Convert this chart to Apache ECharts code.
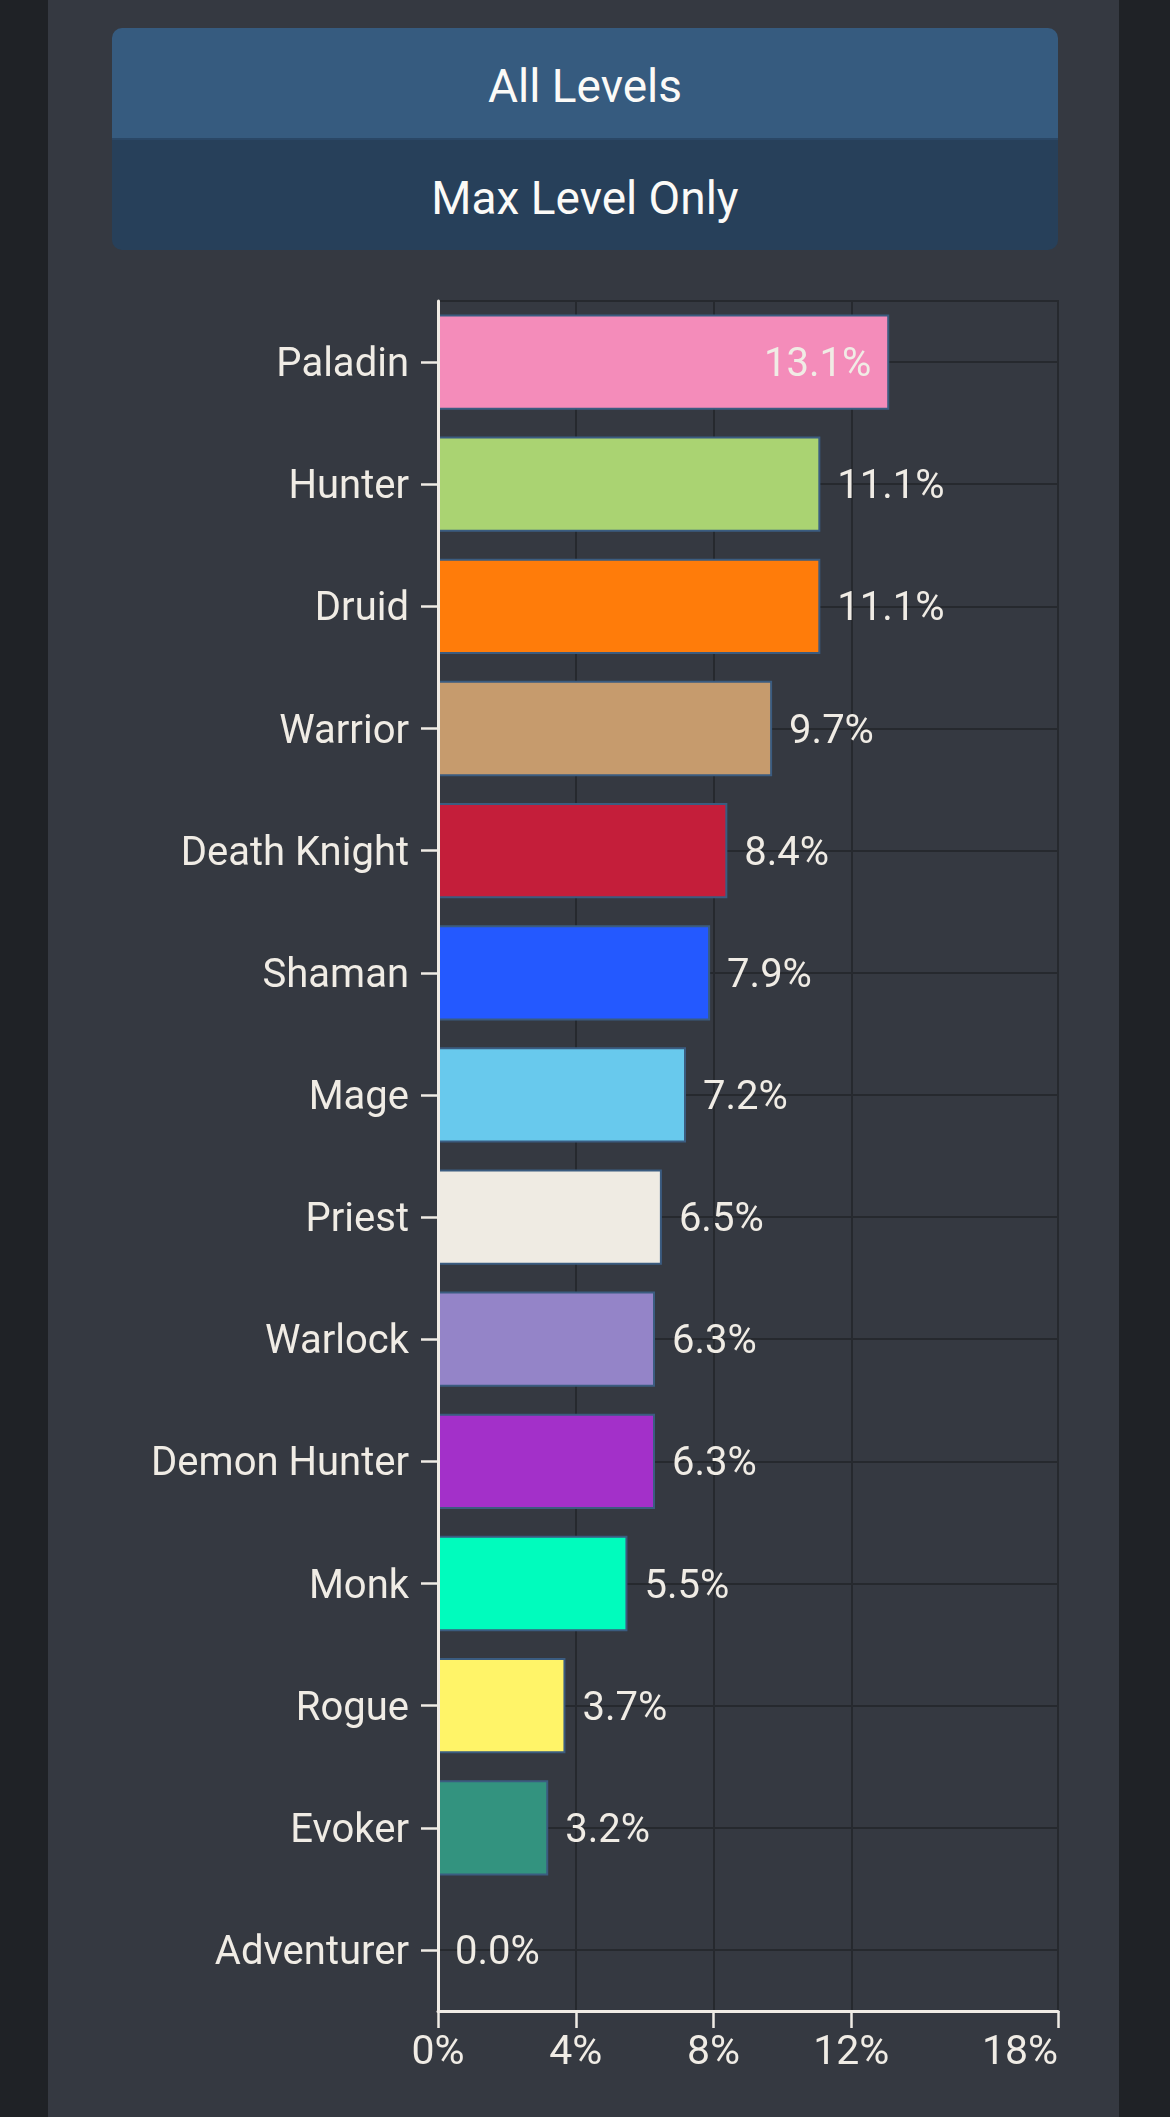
<!DOCTYPE html>
<html>
<head>
    <meta charset="utf-8">
    <title>Class distribution</title>
    <style>
        html, body { margin: 0; padding: 0; }
        body { width: 1170px; height: 2117px; background: #1f2226; position: relative; overflow: hidden; font-family: Roboto, "Noto Sans", sans-serif; }
        .panel { position: absolute; left: 48px; top: 0; width: 1071px; height: 2117px; background: #353941; }
        .tabs { position: absolute; left: 112px; top: 28px; width: 946px; height: 222px; border-radius: 10px; overflow: hidden; z-index: 2; }
        .tab { height: 110px; line-height: 116px; text-align: center; color: #fbfaf7; font-size: 46px; }
        .tab.on { background: #365b7f; border-bottom: 2px solid #2a4766; }
        .tab.off { background: #27405a; }
        #chart { position: absolute; left: 0; top: 0; width: 1170px; height: 2117px; z-index: 1; }
    </style>
</head>
<body>
<div class="panel"></div>
<div class="tabs">
    <div class="tab on">All Levels</div>
    <div class="tab off">Max Level Only</div>
</div>
<div id="chart"></div>

<script src="https://cdn.jsdelivr.net/npm/echarts@6.0.0/dist/echarts.min.js"></script>
<script>
    // classes, top to bottom
    var classes = ['Paladin', 'Hunter', 'Druid', 'Warrior', 'Death Knight', 'Shaman', 'Mage',
        'Priest', 'Warlock', 'Demon Hunter', 'Monk', 'Rogue', 'Evoker', 'Adventurer'];
    var share = [13.1, 11.1, 11.1, 9.7, 8.4, 7.9, 7.2, 6.5, 6.3, 6.3, 5.5, 3.7, 3.2, 0.0];
    var classColors = ['#f48cba', '#aad372', '#ff7c0a', '#c69b6d', '#c41e3a', '#2459ff', '#68c9ed',
        '#efebe3', '#9484c8', '#a330c9', '#00fcbd', '#fff468', '#33937f', '#888888'];
    var xTicks = [0, 4, 8, 12, 18];

    var textColor = '#f0ece5';
    var gridColor = '#26292e';
    var maxShare = Math.max.apply(null, share);

    var data = share.map(function (v, i) {
        return {
            value: v,
            itemStyle: { color: classColors[i], borderWidth: v > 0 ? 2 : 0 },
            label: v === maxShare ? { position: 'insideRight', distance: 18 } : {}
        };
    });

    var myChart = echarts.init(document.getElementById('chart'), null, { renderer: 'canvas' });

    var option = {
        animation: false,
        textStyle: { fontFamily: 'Roboto, "Noto Sans", sans-serif' },
        grid: {
            left: 438, right: 112, top: 301, bottom: 106,
            show: true, borderColor: gridColor, borderWidth: 2, backgroundColor: 'transparent'
        },
        xAxis: {
            type: 'value',
            min: 0,
            max: 18,
            axisLine: { show: true, lineStyle: { color: textColor, width: 3 } },
            axisTick: { show: true, customValues: xTicks, length: 17, lineStyle: { color: textColor, width: 2.5 } },
            axisLabel: {
                customValues: xTicks, color: textColor, fontSize: 41, margin: 22,
                alignMaxLabel: 'right',
                formatter: function (v) { return v + '%'; }
            },
            splitLine: { show: true, customValues: xTicks, lineStyle: { color: gridColor, width: 2 } }
        },
        yAxis: [{
            type: 'category',
            inverse: true,
            data: classes,
            axisLine: { show: false },
            axisTick: { show: true, alignWithLabel: true, length: 17, lineStyle: { color: textColor, width: 2.5 } },
            axisLabel: {
                color: textColor, fontSize: 40, margin: 29,
                formatter: function (v) { return '{n|' + v + '}'; },
                rich: { n: { color: textColor, fontSize: 40, padding: [8, 0, 0, 0] } }
            },
            splitLine: { show: true, alignWithLabel: true, lineStyle: { color: gridColor, width: 2 } }
        }, {
            // overlay so the axis line sits above the bar borders
            type: 'category',
            inverse: true,
            data: classes,
            position: 'left',
            z: 5,
            axisLine: { show: true, lineStyle: { color: textColor, width: 3 } },
            axisTick: { show: false },
            axisLabel: { show: false },
            splitLine: { show: false }
        }],
        series: [{
            type: 'bar',
            yAxisIndex: 0,
            data: data,
            barCategoryGap: '22%',
            itemStyle: { borderColor: '#3b5c80', borderWidth: 2 },
            label: {
                show: true,
                position: 'right',
                distance: 17,
                offset: [0, 4],
                color: textColor,
                fontSize: 40,
                formatter: function (p) { return p.value.toFixed(1) + '%'; }
            }
        }]
    };

    myChart.setOption(option);
</script>
</body>
</html>
